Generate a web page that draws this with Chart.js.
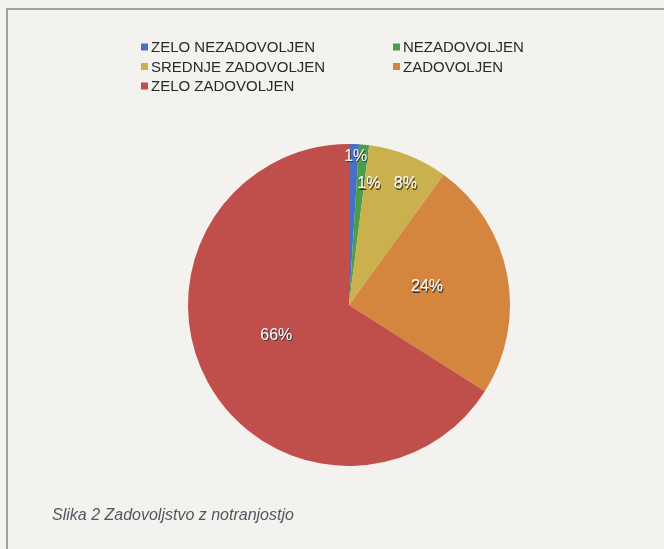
<!DOCTYPE html>
<html>
<head>
<meta charset="utf-8">
<script src="https://cdn.jsdelivr.net/npm/chart.js@4.4.0/dist/chart.umd.min.js"></script>
<style>
  html, body { margin: 0; padding: 0; background: #f3f2ee; }
  #wrap { position: relative; width: 664px; height: 549px; }
</style>
</head>
<body>
<div id="wrap"><canvas id="pita"></canvas></div>
<script>
const kategorije = ['ZELO NEZADOVOLJEN', 'NEZADOVOLJEN', 'SREDNJE ZADOVOLJEN', 'ZADOVOLJEN', 'ZELO ZADOVOLJEN'];
const odstotki = [1, 1, 8, 24, 66];
const barve = ['#4a70c6', '#4a9e48', '#cbb04e', '#d4863e', '#c04f4c'];
const naslov = 'Slika 2 Zadovoljstvo z notranjostjo';

// okvir, legenda v dveh stolpcih, podpis
const okvir = {
    id: 'okvir',
    beforeDraw(chart) {
        const ctx = chart.ctx;
        ctx.save();
        ctx.strokeStyle = '#8a8888';
        ctx.lineWidth = 1.5;
        ctx.beginPath();
        ctx.moveTo(7, 549);
        ctx.lineTo(7, 9);
        ctx.lineTo(664, 9);
        ctx.stroke();
        ctx.restore();
    },
    afterDraw(chart) {
        const ctx = chart.ctx;
        ctx.save();
        ctx.font = '15px "Liberation Sans", Arial, sans-serif';
        ctx.textBaseline = 'middle';
        kategorije.forEach((k, i) => {
            const x = i % 2 === 0 ? 141 : 393;
            const y = 47 + Math.floor(i / 2) * 19.5;
            ctx.fillStyle = barve[i];
            ctx.fillRect(x, y - 3.5, 7, 7);
            ctx.fillStyle = '#2a2a2a';
            ctx.fillText(k, x + 10, y + 1);
        });
        ctx.font = 'italic 16px "Liberation Sans", Arial, sans-serif';
        ctx.fillStyle = '#55555f';
        ctx.fillText(naslov, 52, 516);
        ctx.restore();
    }
};

// oznake z odstotki
const oznake = {
    id: 'oznake',
    afterDatasetsDraw(chart) {
        const ctx = chart.ctx;
        const polmeri = [0.93, 0.78, 0.85, 0.5, 0.48];
        const zamiki = [[2, 1], [8, 4], [6, 6], [-1, -3], [-5, -7]];
        const meta = chart.getDatasetMeta(0);
        ctx.save();
        ctx.font = '16px "Liberation Sans", Arial, sans-serif';
        ctx.textAlign = 'center';
        ctx.textBaseline = 'middle';
        meta.data.forEach((arc, i) => {
            const p = arc.getProps(['x', 'y', 'startAngle', 'endAngle', 'outerRadius'], true);
            const a = (p.startAngle + p.endAngle) / 2;
            const r = p.outerRadius * polmeri[i];
            const x = p.x + Math.cos(a) * r + zamiki[i][0];
            const y = p.y + Math.sin(a) * r + zamiki[i][1];
            ctx.fillStyle = '#3a3a3a';
            ctx.fillText(odstotki[i] + '%', x + 1, y + 1.5);
            ctx.fillStyle = '#ffffff';
            ctx.fillText(odstotki[i] + '%', x, y);
        });
        ctx.restore();
    }
};

new Chart(document.getElementById('pita'), {
    type: 'pie',
    data: {
        labels: kategorije,
        datasets: [{
            data: odstotki,
            backgroundColor: barve,
            borderWidth: 0
        }]
    },
    options: {
        responsive: true,
        maintainAspectRatio: false,
        animation: false,
        layout: {
            padding: { left: 188, right: 154, top: 144, bottom: 83 }
        },
        plugins: {
            legend: { display: false },
            tooltip: { enabled: false }
        }
    },
    plugins: [okvir, oznake]
});
</script>
</body>
</html>
